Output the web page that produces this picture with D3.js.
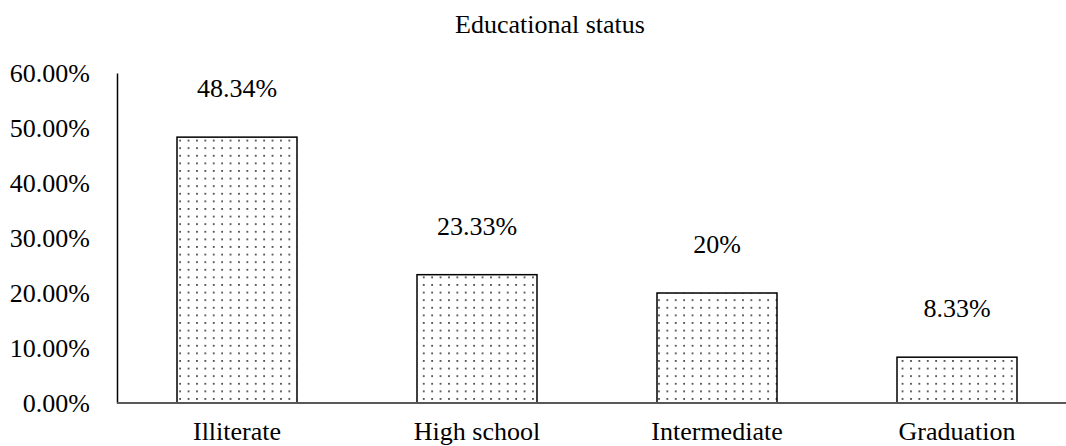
<!DOCTYPE html>
<html>
<head>
<meta charset="utf-8">
<script src="https://cdn.jsdelivr.net/npm/d3@7"></script>
<style>
  body { margin: 0; background: #fff; }
  svg text { font-family: 'Liberation Serif', Tinos, 'Times New Roman', 'DejaVu Serif', serif !important; fill: #000; }
</style>
</head>
<body>
<div id="chart"></div>
<script>
const categories = ["Illiterate", "High school", "Intermediate", "Graduation"]
const values = [48.34, 23.33, 20, 8.33]
const valueLabels = ["48.34%", "23.33%", "20%", "8.33%"]
const yTicks = [0, 10, 20, 30, 40, 50, 60]

const W = 1066, H = 446
const margin = {top: 73, left: 117, bottom: 43}
const fontSize = 26
const serif = "'Liberation Serif', Tinos, 'Times New Roman', 'DejaVu Serif', serif"

const svg = d3.select("#chart").append("svg")
  .attr("width", W)
  .attr("height", H)

// dotted fill like the excel pattern
const defs = svg.append("defs")
const pat = defs.append("pattern")
  .attr("id", "dots")
  .attr("patternUnits", "userSpaceOnUse")
  .attr("width", 8.4)
  .attr("height", 7.6)
pat.append("rect").attr("width", 8.4).attr("height", 7.6).attr("fill", "#fff")
pat.append("rect").attr("x", 3).attr("y", 3).attr("width", 1.5).attr("height", 1.5).attr("fill", "#000")

const x = d3.scaleBand()
  .domain(categories)
  .range([margin.left, margin.left + 960])
  .paddingInner(0.5)
  .paddingOuter(0.25)

const y = d3.scaleLinear()
  .domain([0, 60])
  .range([H - margin.bottom, margin.top])

// title
svg.append("text")
  .attr("x", 550)
  .attr("y", 33)
  .attr("text-anchor", "middle")
  .style("font-family", serif)
  .attr("font-size", fontSize)
  .text("Educational status")

// y axis
const yAxis = svg.append("g")
  .attr("transform", `translate(${margin.left},0)`)
  .call(d3.axisLeft(y).tickValues(yTicks).tickSize(0).tickPadding(27).tickFormat(d => d.toFixed(2) + "%"))
yAxis.attr("font-family", null)
yAxis.select(".domain").attr("stroke", "#000").attr("stroke-width", 1.5)
yAxis.selectAll("text")
  .attr("font-size", fontSize)
  .style("font-family", serif)
  .attr("dy", "0.33em")

// bars
svg.selectAll(".bar")
  .data(values)
  .enter()
  .append("rect")
    .attr("class", "bar")
    .attr("x", (d, i) => x(categories[i]))
    .attr("y", d => y(d))
    .attr("width", x.bandwidth())
    .attr("height", d => y(0) - y(d))
    .attr("fill", "url(#dots)")
    .attr("stroke", "#000")
    .attr("stroke-width", 1.5)

// x axis line
svg.append("line")
  .attr("x1", margin.left)
  .attr("x2", W)
  .attr("y1", y(0))
  .attr("y2", y(0))
  .attr("stroke", "#595959")
  .attr("stroke-width", 2)

// value labels
svg.selectAll(".val")
  .data(values)
  .enter()
  .append("text")
    .attr("class", "val")
    .attr("x", (d, i) => x(categories[i]) + x.bandwidth() / 2)
    .attr("y", d => y(d) - 40)
    .attr("text-anchor", "middle")
    .style("font-family", serif)
    .attr("font-size", fontSize)
    .text((d, i) => valueLabels[i])

// category labels
svg.selectAll(".cat")
  .data(categories)
  .enter()
  .append("text")
    .attr("class", "cat")
    .attr("x", d => x(d) + x.bandwidth() / 2)
    .attr("y", 440)
    .attr("text-anchor", "middle")
    .style("font-family", serif)
    .attr("font-size", fontSize)
    .text(d => d)
</script>
</body>
</html>
